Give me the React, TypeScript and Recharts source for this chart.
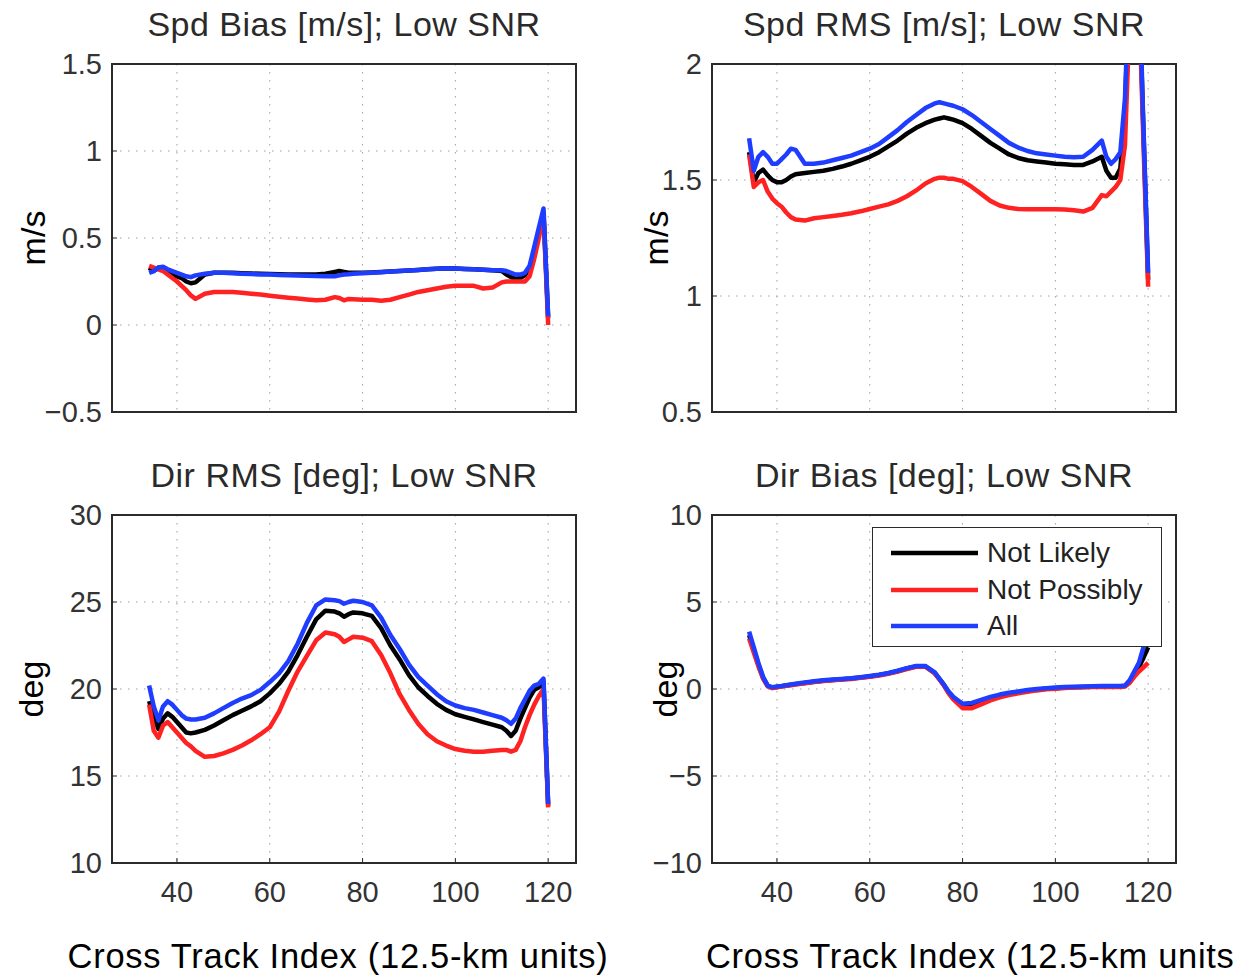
import React from 'react';
import { LineChart, Line, XAxis, YAxis, CartesianGrid, Legend, ReferenceArea } from 'recharts';

// cross track index samples (denser where the curves turn sharply)
const crossTrack = [34, 35, 36, 37, 38, 39, 40, 41, 42, 43, 44,
  46, 48, 50, 52, 54, 56, 58, 60, 62, 64, 66, 68, 70, 72, 74,
  75, 76, 77, 78,
  80, 82, 84, 86, 88, 90, 92, 94, 96, 98, 100, 102, 104, 106, 108, 110,
  111, 112, 113, 114, 115, 116, 117, 118, 119, 120];
const xTicks = [40, 60, 80, 100, 120];

// Spd Bias [m/s]
const spdBiasLikely = [0.33, 0.31, 0.33, 0.33, 0.31, 0.29, 0.28, 0.27, 0.25, 0.24, 0.245,
  0.29, 0.3, 0.3, 0.3, 0.298, 0.296, 0.294, 0.293, 0.292, 0.29, 0.29, 0.29, 0.29, 0.295, 0.305,
  0.31, 0.305, 0.3, 0.3,
  0.3, 0.302, 0.305, 0.308, 0.31, 0.313, 0.316, 0.32, 0.323, 0.326, 0.325, 0.322, 0.32, 0.318, 0.315, 0.31,
  0.29, 0.275, 0.265, 0.27, 0.285, 0.33, 0.42, 0.53, 0.64, 0.04];
const spdBiasPossibly = [0.34, 0.33, 0.32, 0.31, 0.29, 0.27, 0.25, 0.225, 0.2, 0.17, 0.15,
  0.18, 0.19, 0.19, 0.19, 0.185, 0.18, 0.175, 0.168, 0.162, 0.157, 0.152, 0.147, 0.142, 0.145, 0.16,
  0.155, 0.142, 0.15, 0.148,
  0.145, 0.145, 0.14, 0.145, 0.16, 0.175, 0.19, 0.2, 0.21, 0.22, 0.225, 0.225, 0.225, 0.21, 0.215, 0.245,
  0.25, 0.25, 0.25, 0.25, 0.25, 0.28, 0.38, 0.5, 0.64, 0.0];
const spdBiasAll = [0.3, 0.31, 0.33, 0.335, 0.32, 0.31, 0.3, 0.29, 0.28, 0.275, 0.285,
  0.295, 0.3, 0.3, 0.298, 0.295, 0.293, 0.29, 0.29, 0.288, 0.286, 0.285, 0.283, 0.282, 0.28, 0.28,
  0.285, 0.29, 0.292, 0.295,
  0.297, 0.3, 0.303, 0.307, 0.31, 0.313, 0.316, 0.32, 0.323, 0.326, 0.325, 0.322, 0.32, 0.318, 0.315, 0.315,
  0.31, 0.3, 0.29, 0.29, 0.3, 0.34, 0.45, 0.56, 0.67, 0.05];

// Spd RMS [m/s]
const spdRmsLikely = [1.62, 1.49, 1.53, 1.545, 1.52, 1.5, 1.49, 1.49, 1.5, 1.515, 1.525,
  1.53, 1.535, 1.54, 1.548, 1.558, 1.57, 1.585, 1.6, 1.62, 1.645, 1.67, 1.7, 1.725, 1.745, 1.76,
  1.765, 1.77, 1.765, 1.76,
  1.745, 1.72, 1.69, 1.66, 1.635, 1.61, 1.595, 1.585, 1.58, 1.575, 1.57, 1.568, 1.565, 1.565, 1.58, 1.6,
  1.54, 1.51, 1.51, 1.55, 1.8, 2.4, 2.65, 2.35, 1.7, 1.07];
const spdRmsPossibly = [1.61, 1.47, 1.49, 1.5, 1.45, 1.42, 1.4, 1.385, 1.36, 1.34, 1.33,
  1.325, 1.335, 1.34, 1.345, 1.35, 1.357, 1.365, 1.375, 1.385, 1.395, 1.41, 1.43, 1.455, 1.485, 1.505,
  1.51, 1.51, 1.505, 1.505,
  1.495, 1.47, 1.44, 1.41, 1.39, 1.38, 1.375, 1.374, 1.374, 1.374, 1.374, 1.373, 1.37, 1.364, 1.38, 1.435,
  1.43, 1.45, 1.47, 1.5, 1.65, 2.2, 2.6, 2.3, 1.65, 1.04];
const spdRmsAll = [1.68, 1.54, 1.6, 1.62, 1.6, 1.57, 1.57, 1.59, 1.61, 1.635, 1.63,
  1.57, 1.57, 1.575, 1.585, 1.595, 1.605, 1.62, 1.635, 1.655, 1.685, 1.715, 1.75, 1.78, 1.81, 1.83,
  1.835, 1.83, 1.825, 1.82,
  1.805, 1.78, 1.75, 1.72, 1.69, 1.66, 1.64, 1.625, 1.615, 1.61, 1.605, 1.6, 1.598, 1.6, 1.63, 1.67,
  1.6, 1.57, 1.59, 1.62, 1.85, 2.4, 2.7, 2.4, 1.72, 1.1];

// Dir RMS [deg]
const dirRmsLikely = [19.3, 18.4, 17.7, 18.3, 18.6, 18.4, 18.1, 17.8, 17.5, 17.45, 17.5,
  17.65, 17.9, 18.2, 18.5, 18.75, 19.0, 19.3, 19.75, 20.3, 21.0, 21.95, 23.0, 24.0, 24.5, 24.45,
  24.35, 24.15, 24.3, 24.4,
  24.35, 24.2, 23.5, 22.5, 21.7, 20.8, 20.1, 19.6, 19.15, 18.8, 18.55, 18.4, 18.25, 18.1, 17.95, 17.8,
  17.6, 17.3, 17.6, 18.3, 18.9, 19.5, 19.95, 20.1, 20.4, 13.3];
const dirRmsPossibly = [19.1, 17.6, 17.2, 17.9, 18.1, 17.8, 17.5, 17.2, 16.9, 16.7, 16.45,
  16.1, 16.15, 16.3, 16.5, 16.75, 17.05, 17.4, 17.8, 18.7, 19.9, 21.0, 21.9, 22.8, 23.25, 23.15,
  23.0, 22.7, 22.85, 23.0,
  22.95, 22.75, 21.95, 20.9, 19.7, 18.8, 18.0, 17.4, 17.0, 16.75, 16.55, 16.45, 16.4, 16.4, 16.45, 16.5,
  16.5, 16.4, 16.5, 17.0, 17.8, 18.5, 19.1, 19.6, 20.0, 13.2];
const dirRmsAll = [20.2, 19.0, 18.2, 19.0, 19.3, 19.1, 18.8, 18.5, 18.3, 18.25, 18.25,
  18.35, 18.6, 18.9, 19.2, 19.45, 19.65, 19.95, 20.4, 20.9, 21.6, 22.6, 23.8, 24.8, 25.15, 25.1,
  25.05, 24.9, 25.0, 25.07,
  25.0, 24.8, 24.1, 23.1, 22.3, 21.4, 20.7, 20.2, 19.7, 19.3, 19.05, 18.9, 18.8, 18.65, 18.5, 18.35,
  18.2, 18.0, 18.3, 18.9, 19.4, 19.9, 20.2, 20.3, 20.6, 13.4];

// Dir Bias [deg]
const dirBiasLikely = [3.1, 2.25, 1.4, 0.65, 0.18, 0.08, 0.12, 0.16, 0.2, 0.24, 0.28,
  0.35, 0.42, 0.48, 0.52, 0.56, 0.6, 0.66, 0.72, 0.8, 0.9, 1.02, 1.18, 1.3, 1.3, 0.92,
  0.58, 0.22, -0.2, -0.52,
  -0.95, -0.92, -0.72, -0.54, -0.4, -0.28, -0.19, -0.11, -0.04, 0.02, 0.05, 0.08, 0.1, 0.12, 0.13, 0.14,
  0.14, 0.14, 0.14, 0.14, 0.17, 0.42, 0.85, 1.25, 1.8, 2.4];
const dirBiasPossibly = [2.9, 2.1, 1.3, 0.6, 0.15, 0.05, 0.1, 0.14, 0.18, 0.22, 0.26,
  0.33, 0.4, 0.46, 0.5, 0.54, 0.58, 0.64, 0.7, 0.78, 0.88, 1.0, 1.15, 1.28, 1.28, 0.9,
  0.55, 0.2, -0.25, -0.6,
  -1.1, -1.1, -0.88, -0.66, -0.48, -0.35, -0.25, -0.16, -0.08, -0.02, 0.02, 0.06, 0.08, 0.1, 0.11, 0.12,
  0.12, 0.12, 0.12, 0.12, 0.14, 0.35, 0.7, 1.0, 1.25, 1.5];
const dirBiasAll = [3.3, 2.4, 1.5, 0.7, 0.2, 0.1, 0.15, 0.18, 0.22, 0.26, 0.3,
  0.38, 0.44, 0.5, 0.54, 0.58, 0.62, 0.68, 0.75, 0.82, 0.92, 1.05, 1.2, 1.32, 1.32, 0.95,
  0.6, 0.25, -0.15, -0.45,
  -0.85, -0.8, -0.62, -0.45, -0.32, -0.22, -0.14, -0.06, 0.0, 0.05, 0.08, 0.11, 0.13, 0.15, 0.16, 0.17,
  0.17, 0.17, 0.17, 0.17, 0.2, 0.5, 1.0, 1.5, 2.4, 3.2];

const seriesNames = ['Not Likely', 'Not Possibly', 'All'];

const FONT = '"Liberation Sans", Arial, Helvetica, sans-serif';
const BLACK = '#000000';
const RED = '#ff2222';
const BLUE = '#1f3dff';
const AXIS = '#2b2b2b';
const TICK_FILL = '#333333';
const X_DOMAIN: [number, number] = [26, 126];

const fmt = (v: number) => (v < 0 ? '\u2212' + String(-v) : String(v));

const buildRows = (k: number[], r: number[], b: number[]) =>
  crossTrack.map((x, i) => ({ x, k: k[i], r: r[i], b: b[i] }));

interface PanelProps {
  left: number;
  top: number;
  width: number;
  height: number;
  margin: { top: number; right: number; bottom: number; left: number };
  k: number[];
  r: number[];
  b: number[];
  yDomain: [number, number];
  yTicks: number[];
  title: string;
  yLabel: string;
  yLabelX: number;
  xLabel?: string;
  xLabelX?: number;
  xLabelAnchor?: 'start' | 'middle';
  legend?: boolean;
}

const LegendBox = ({ payload }: any) => {
  // keep the plotting order, the library sorts by name otherwise
  const items = [...(payload || [])].sort(
    (a: any, b: any) => seriesNames.indexOf(a.value) - seriesNames.indexOf(b.value)
  );
  return (
    <div
      style={{
        width: 290,
        height: 120,
        boxSizing: 'border-box',
        border: `1.5px solid ${AXIS}`,
        background: '#fff',
        position: 'relative',
        fontFamily: FONT,
        fontSize: 28,
        color: '#222',
      }}
    >
      {items.map((e: any, i: number) => (
        <div key={e.value} style={{ position: 'absolute', left: 0, top: 7 + i * 36.5, height: 36, display: 'flex', alignItems: 'center' }}>
          <svg width={112} height={36}>
            <line x1={18} x2={105} y1={18} y2={18} stroke={e.color} strokeWidth={4.5} />
          </svg>
          <span style={{ marginLeft: 2, lineHeight: '36px' }}>{e.value}</span>
        </div>
      ))}
    </div>
  );
};

const Panel: React.FC<PanelProps> = (p) => {
  const rows = buildRows(p.k, p.r, p.b);
  const bottomRow = !!p.xLabel;
  return (
    <div style={{ position: 'absolute', left: p.left, top: p.top }}>
      <LineChart width={p.width} height={p.height} data={rows} margin={p.margin}>
        <CartesianGrid stroke="#a0a0a0" strokeDasharray="1.5 6.5" />
        <XAxis
          type="number"
          dataKey="x"
          domain={X_DOMAIN}
          ticks={xTicks}
          height={bottomRow ? 50 : 0}
          tickSize={-5}
          tickMargin={23}
          axisLine={{ stroke: AXIS, strokeWidth: 2 }}
          tickLine={{ stroke: AXIS }}
          tick={{ fill: TICK_FILL, fontSize: 29, fontFamily: FONT }}
          tickFormatter={bottomRow ? fmt : () => ''}
          label={{
            content: (lp: any) => {
              if (!p.xLabel) return null;
              const vb = lp.viewBox;
              return (
                <text
                  x={p.xLabelX}
                  y={vb.y + 105}
                  textAnchor={p.xLabelAnchor}
                  fontSize={34.5}
                  fontFamily={FONT}
                  fill="#000"
                  letterSpacing={0.7}
                >
                  {p.xLabel}
                </text>
              );
            },
          }}
        />
        <YAxis
          type="number"
          domain={p.yDomain}
          ticks={p.yTicks}
          allowDataOverflow
          width={100}
          tickSize={-5}
          tickMargin={15}
          axisLine={{ stroke: AXIS, strokeWidth: 2 }}
          tickLine={{ stroke: AXIS }}
          tick={{ fill: TICK_FILL, fontSize: 29, fontFamily: FONT }}
          tickFormatter={fmt}
          label={{
            content: (lp: any) => {
              const vb = lp.viewBox;
              const cy = vb.y + vb.height / 2;
              return (
                <text
                  x={p.yLabelX}
                  y={cy}
                  transform={`rotate(-90 ${p.yLabelX} ${cy})`}
                  textAnchor="middle"
                  fontSize={34}
                  fontFamily={FONT}
                  fill="#000"
                >
                  {p.yLabel}
                </text>
              );
            },
          }}
        />
        {/* box around the axes, carries the panel title */}
        <ReferenceArea
          x1={X_DOMAIN[0]}
          x2={X_DOMAIN[1]}
          y1={p.yDomain[0]}
          y2={p.yDomain[1]}
          fill="none"
          fillOpacity={0}
          stroke={AXIS}
          strokeWidth={2}
          ifOverflow="visible"
          label={{
            content: (lp: any) => {
              const vb = lp.viewBox;
              return (
                <text
                  x={vb.x + vb.width / 2}
                  y={vb.y - 28}
                  textAnchor="middle"
                  fontSize={34}
                  fontFamily={FONT}
                  fill="#2a2a2a"
                  letterSpacing={0.5}
                >
                  {p.title}
                </text>
              );
            },
          }}
        />
        <Line type="linear" dataKey="k" name={seriesNames[0]} stroke={BLACK} strokeWidth={4.5} dot={false} isAnimationActive={false} strokeLinejoin="round" />
        <Line type="linear" dataKey="r" name={seriesNames[1]} stroke={RED} strokeWidth={4.5} dot={false} isAnimationActive={false} strokeLinejoin="round" />
        <Line type="linear" dataKey="b" name={seriesNames[2]} stroke={BLUE} strokeWidth={4.5} dot={false} isAnimationActive={false} strokeLinejoin="round" />
        {p.legend && (
          <Legend
            layout="vertical"
            align="center"
            verticalAlign="middle"
            wrapperStyle={{ left: 272, top: 87, width: 290, height: 120 }}
            content={(lp: any) => <LegendBox payload={lp.payload} />}
          />
        )}
      </LineChart>
    </div>
  );
};

export default function App() {
  return (
    <div style={{ position: 'absolute', left: 0, top: 0, width: 1245, height: 980, background: '#fff', overflow: 'hidden' }}>
      <Panel
        left={0} top={0} width={620} height={440}
        margin={{ top: 64, right: 44, bottom: 28, left: 12 }}
        k={spdBiasLikely} r={spdBiasPossibly} b={spdBiasAll}
        yDomain={[-0.5, 1.5]} yTicks={[-0.5, 0, 0.5, 1, 1.5]}
        title="Spd Bias [m/s]; Low SNR" yLabel="m/s" yLabelX={45}
      />
      <Panel
        left={600} top={0} width={645} height={440}
        margin={{ top: 64, right: 69, bottom: 28, left: 12 }}
        k={spdRmsLikely} r={spdRmsPossibly} b={spdRmsAll}
        yDomain={[0.5, 2]} yTicks={[0.5, 1, 1.5, 2]}
        title="Spd RMS [m/s]; Low SNR" yLabel="m/s" yLabelX={68}
      />
      <Panel
        left={0} top={440} width={620} height={540}
        margin={{ top: 75, right: 44, bottom: 67, left: 12 }}
        k={dirRmsLikely} r={dirRmsPossibly} b={dirRmsAll}
        yDomain={[10, 30]} yTicks={[10, 15, 20, 25, 30]}
        title="Dir RMS [deg]; Low SNR" yLabel="deg" yLabelX={43}
        xLabel="Cross Track Index (12.5-km units)" xLabelX={338} xLabelAnchor="middle"
      />
      <Panel
        left={600} top={440} width={645} height={540}
        margin={{ top: 75, right: 69, bottom: 67, left: 12 }}
        k={dirBiasLikely} r={dirBiasPossibly} b={dirBiasAll}
        yDomain={[-10, 10]} yTicks={[-10, -5, 0, 5, 10]}
        title="Dir Bias [deg]; Low SNR" yLabel="deg" yLabelX={77}
        xLabel="Cross Track Index (12.5-km units" xLabelX={106} xLabelAnchor="start"
        legend
      />
    </div>
  );
}
